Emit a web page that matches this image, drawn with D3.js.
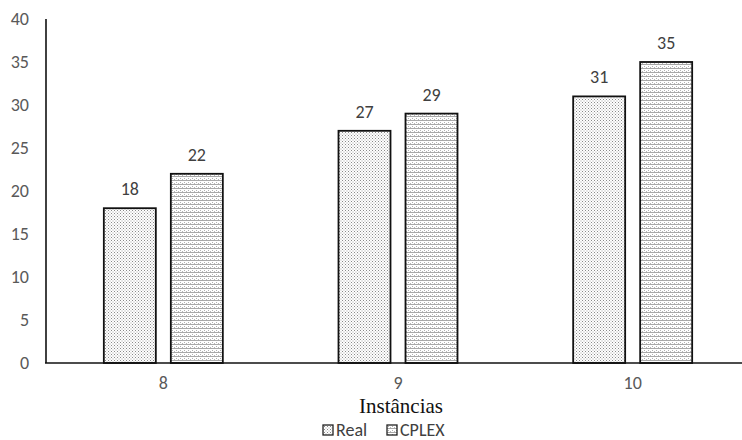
<!DOCTYPE html>
<html><head><meta charset="utf-8">
<script src="https://cdn.jsdelivr.net/npm/d3@7"></script>
<style>body{margin:0;background:#fff;} svg{display:block;}</style>
</head><body>
<svg id="c" width="742" height="440"></svg>
<script>
const categories = ["8", "9", "10"];
const seriesNames = ["Real", "CPLEX"];
const realValues = [18, 27, 31];
const cplexValues = [22, 29, 35];
const yTicks = [0, 5, 10, 15, 20, 25, 30, 35, 40];

const svg = d3.select("#c");
const defs = svg.append("defs");
const p1 = defs.append("pattern").attr("id","dots").attr("width",3).attr("height",3).attr("patternUnits","userSpaceOnUse");
p1.append("rect").attr("width",3).attr("height",3).attr("fill","#fff");
p1.append("rect").attr("x",0).attr("y",0).attr("width",1).attr("height",1).attr("fill","#8a8a8a");
p1.append("rect").attr("x",1.5).attr("y",1.5).attr("width",1).attr("height",1).attr("fill","#a0a0a0");
const p2 = defs.append("pattern").attr("id","stripes").attr("width",4).attr("height",4).attr("patternUnits","userSpaceOnUse");
p2.append("rect").attr("width",4).attr("height",4).attr("fill","#fff");
p2.append("rect").attr("x",0).attr("y",0).attr("width",4).attr("height",1).attr("fill","#a8a8a8");
p2.append("rect").attr("x",0).attr("y",2).attr("width",1).attr("height",1).attr("fill","#b0b0b0");
p2.append("rect").attr("x",2).attr("y",3).attr("width",1).attr("height",1).attr("fill","#b8b8b8");

const x0 = d3.scaleBand().domain(categories).range([46, 750]).paddingInner(0).paddingOuter(0);
const y = d3.scaleLinear().domain([0, 40]).range([363, 19]);
const barW = 52, gap = 15;
const xs = d3.scaleBand().domain(seriesNames).range([0, 2*barW+gap]).paddingInner(gap/(barW+gap)).paddingOuter(0);

const series = [
  {name:"Real", values: realValues, fill:"url(#dots)"},
  {name:"CPLEX", values: cplexValues, fill:"url(#stripes)"}
];

const sans = "Carlito, Calibri, Lato, sans-serif";

svg.append("g").selectAll("text").data(yTicks).join("text")
  .attr("x", 29).attr("y", d => y(d)).attr("dy","0.35em")
  .attr("text-anchor","end")
  .attr("font-family", sans)
  .attr("font-size", 18).attr("fill","#595959")
  .text(d => d);

const groupOffset = (x0.bandwidth() - (2*barW+gap))/2;
series.forEach(s => {
  const g = svg.append("g");
  g.selectAll("rect").data(categories).join("rect")
    .attr("x", (c) => x0(c) + groupOffset + xs(s.name))
    .attr("y", (c,i) => y(s.values[i]))
    .attr("width", xs.bandwidth())
    .attr("height", (c,i) => y(0) - y(s.values[i]))
    .attr("fill", s.fill)
    .attr("stroke","#111").attr("stroke-width",1.8);
  g.selectAll("text").data(categories).join("text")
    .attr("x", (c) => x0(c) + groupOffset + xs(s.name) + xs.bandwidth()/2)
    .attr("y", (c,i) => y(s.values[i]) - 13)
    .attr("text-anchor","middle")
    .attr("font-family", sans)
    .attr("font-size", 18).attr("fill","#404040")
    .text((c,i) => s.values[i]);
});

svg.append("line").attr("x1",46).attr("x2",46).attr("y1",y(40)).attr("y2",y(0)).attr("stroke","#111").attr("stroke-width",1.6);
svg.append("line").attr("x1",45).attr("x2",742).attr("y1",y(0)).attr("y2",y(0)).attr("stroke","#111").attr("stroke-width",1.6);

svg.append("g").selectAll("text").data(categories).join("text")
  .attr("x", c => x0(c) + x0.bandwidth()/2).attr("y", 389)
  .attr("text-anchor","middle")
  .attr("font-family", sans)
  .attr("font-size", 18).attr("fill","#595959")
  .text(c => c);

svg.append("text").attr("x", 401).attr("y", 413).attr("text-anchor","middle")
  .attr("font-family","'Liberation Serif', 'Times New Roman', serif")
  .attr("font-size", 21).attr("fill","#111").text("Instâncias");

const leg = svg.append("g");
const legItems = [{name:"Real", fill:"url(#dots)", x:323}, {name:"CPLEX", fill:"url(#stripes)", x:387}];
leg.selectAll("rect").data(legItems).join("rect")
  .attr("x", d => d.x).attr("y", 425).attr("width", 10).attr("height", 10)
  .attr("fill", d => d.fill).attr("stroke","#222").attr("stroke-width",1.3);
leg.selectAll("text").data(legItems).join("text")
  .attr("x", d => d.x + 13).attr("y", 436)
  .attr("font-family", sans)
  .attr("font-size", 18).attr("fill","#404040")
  .text(d => d.name);
</script>
</body></html>
